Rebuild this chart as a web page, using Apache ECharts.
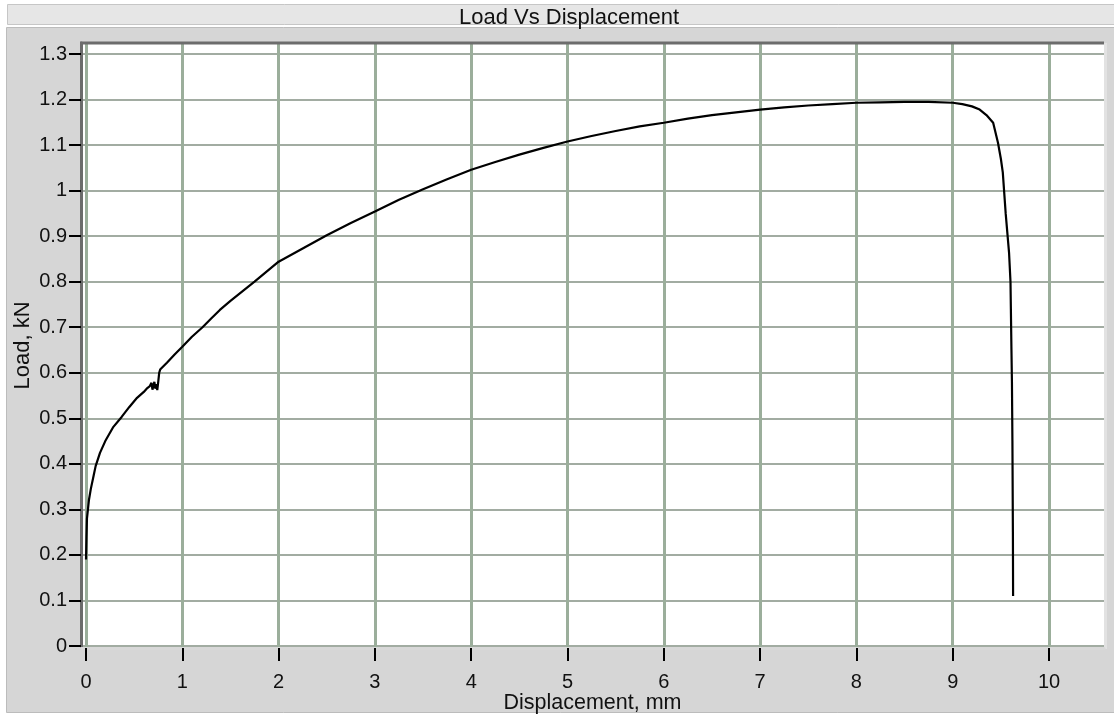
<!DOCTYPE html>
<html>
<head>
<meta charset="utf-8">
<script src="https://cdn.jsdelivr.net/npm/echarts@6/dist/echarts.min.js"></script>
<style>
html,body{margin:0;padding:0;background:#ffffff;}
#chart{width:1114px;height:715px;}
</style>
</head>
<body>
<div id="chart"></div>
<script>
// Displacement (mm)
var displacement = [
  0.000, 0.005, 0.010, 0.020, 0.030, 0.050, 0.080, 0.100, 0.145, 0.200,
  0.280, 0.370, 0.450, 0.530, 0.600, 0.630, 0.660, 0.680, 0.690, 0.710,
  0.720, 0.730, 0.740, 0.750, 0.760, 0.770, 0.840, 0.920, 1.000, 1.100,
  1.210, 1.300, 1.390, 1.500, 1.750, 2.000, 2.250, 2.500, 2.750, 3.000,
  3.250, 3.500, 3.750, 4.000, 4.250, 4.500, 4.750, 5.000, 5.250, 5.500,
  5.750, 6.000, 6.250, 6.500, 6.750, 7.000, 7.250, 7.500, 7.750, 8.000,
  8.250, 8.500, 8.750, 9.000, 9.100, 9.200, 9.280, 9.350, 9.420, 9.470,
  9.500, 9.520, 9.550, 9.585, 9.600, 9.610, 9.615, 9.620, 9.625, 9.627
];
// Load (kN)
var load = [
  0.190, 0.240, 0.280, 0.300, 0.320, 0.345, 0.375, 0.395, 0.424, 0.450,
  0.480, 0.503, 0.525, 0.545, 0.558, 0.565, 0.570, 0.578, 0.563, 0.580,
  0.565, 0.575, 0.562, 0.580, 0.600, 0.607, 0.622, 0.640, 0.657, 0.679,
  0.700, 0.719, 0.738, 0.758, 0.800, 0.844, 0.873, 0.902, 0.929, 0.954,
  0.980, 1.003, 1.025, 1.046, 1.063, 1.079, 1.094, 1.108, 1.120, 1.131,
  1.141, 1.149, 1.158, 1.166, 1.172, 1.178, 1.183, 1.187, 1.190, 1.193,
  1.194, 1.195, 1.195, 1.193, 1.190, 1.185, 1.178, 1.166, 1.149, 1.105,
  1.070, 1.040, 0.950, 0.864, 0.800, 0.650, 0.580, 0.450, 0.250, 0.110
];
var xTicks = [0, 1, 2, 3, 4, 5, 6, 7, 8, 9, 10];
var yTicks = [0, 0.1, 0.2, 0.3, 0.4, 0.5, 0.6, 0.7, 0.8, 0.9, 1.0, 1.1, 1.2, 1.3];

var seriesData = displacement.map(function (d, i) { return [d, load[i]]; });

var chart = echarts.init(document.getElementById('chart'), null, {renderer: 'canvas'});
var labelFont = 'Arial, "Liberation Sans", sans-serif';

chart.setOption({
  animation: false,
  backgroundColor: '#ffffff',
  title: {
    text: 'Load Vs Displacement',
    left: 454,
    top: 2,
    textStyle: {fontFamily: labelFont, fontSize: 22, fontWeight: 'normal', color: '#111111'}
  },
  graphic: [
    {type: 'rect', z: -10, silent: true, shape: {x: 7.5, y: 4.5, width: 1110, height: 20},
      style: {fill: '#e6e6e6', stroke: '#c6c6c6', lineWidth: 1}},
    {type: 'rect', z: -10, silent: true, shape: {x: 6.5, y: 27.5, width: 1110, height: 685},
      style: {fill: '#d6d6d6', stroke: '#bcbcbc', lineWidth: 1}},
    {type: 'rect', z: -9, silent: true, shape: {x: 81, y: 43, width: 1026, height: 606},
      style: {fill: '#e2e2e2'}},
    {type: 'line', z: 50, silent: true, shape: {x1: 80, y1: 43, x2: 1104, y2: 43},
      style: {stroke: '#6c6c6c', lineWidth: 3}}
  ],
  grid: {
    left: 81, right: 10, top: 43, bottom: 67,
    containLabel: false,
    outerBoundsMode: 'none',
    show: true, backgroundColor: '#ffffff', borderWidth: 0
  },
  xAxis: {
    type: 'value',
    min: -0.052, max: 10.571,
    name: 'Displacement, mm',
    nameLocation: 'middle',
    nameGap: 44,
    nameMoveOverlap: false,
    nameTextStyle: {fontFamily: labelFont, fontSize: 21.5, color: '#111111'},
    axisLine: {show: true, onZero: false, lineStyle: {color: '#d8d8d8', width: 3}},
    axisTick: {show: true, customValues: xTicks, length: 13, lineStyle: {color: '#000000', width: 2}},
    axisLabel: {customValues: xTicks, margin: 24, fontFamily: labelFont, fontSize: 20, color: '#111111'},
    splitLine: {show: true, lineStyle: {color: '#9bae9b', width: 3}}
  },
  yAxis: {
    type: 'value',
    min: -0.0044, max: 1.3242,
    name: 'Load, kN',
    nameLocation: 'middle',
    nameRotate: 90,
    nameGap: 47,
    nameMoveOverlap: false,
    nameTextStyle: {fontFamily: labelFont, fontSize: 22, color: '#111111'},
    axisLine: {show: true, onZero: false, lineStyle: {color: '#6c6c6c', width: 3}},
    axisTick: {show: true, customValues: yTicks, length: 12, lineStyle: {color: '#000000', width: 2}},
    axisLabel: {customValues: yTicks, margin: 14, fontFamily: labelFont, fontSize: 20, color: '#111111',
      formatter: function (v) { return String(Math.round(v * 10) / 10); }},
    splitLine: {show: true, lineStyle: {color: '#a2aca2', width: 2}}
  },
  series: [{
    type: 'line',
    data: seriesData,
    showSymbol: false,
    symbol: 'none',
    clip: true,
    lineStyle: {color: '#000000', width: 2.2},
    z: 10
  }]
});
</script>
</body>
</html>
